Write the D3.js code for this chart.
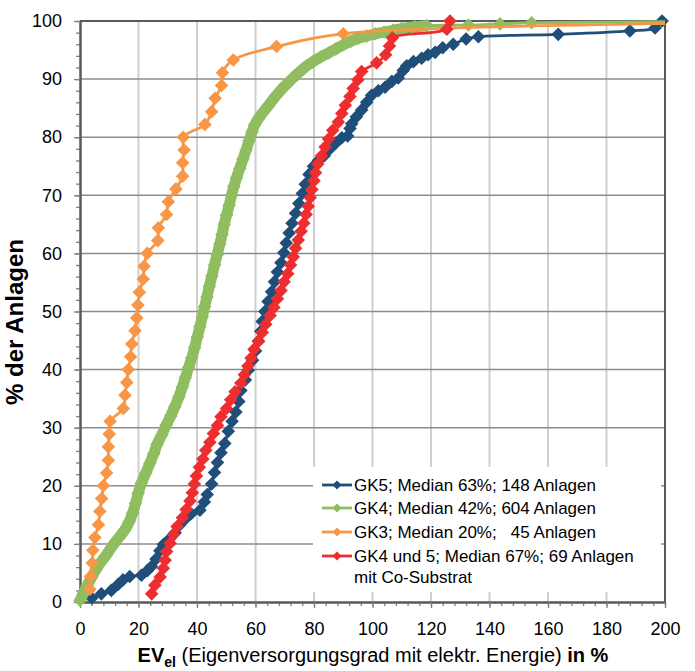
<!DOCTYPE html>
<html lang="de">
<head>
<meta charset="UTF-8">
<title>EV el Verteilung</title>
<style>
  body { margin: 0; padding: 0; background: #fff; }
  svg { display: block; font-family: "Liberation Sans", Arial, sans-serif; }
</style>
</head>
<body>
<div id="chart"></div>
<script src="https://d3js.org/d3.v7.min.js"></script>
<script>
// values: [EV_el in %, cumulative % der Anlagen]
var gk5 = [[4,0.7],[7.3,1.4],[10.7,2.0],[13,3.0],[14.7,3.8],[17,4.4],[21,4.6],[23,5.4],[24.4,6.1],[26,7.4],
  [27.3,8.8],[28.5,9.9],[30.5,10.8],[32.5,11.9],[34,13.2],[36,14.3],[38,15.2],[41,15.8],[42.5,17.2],[43.5,18.5],
  [45,20.3],[46,22.3],[47,24.0],[48.2,25.7],[49.5,27.3],[50.7,29.4],[52,31.1],[53.3,32.7],[54.3,34.5],[55,36.4],
  [56.5,38.2],[57.5,39.9],[59,41.6],[60,43.2],[61,44.9],[61.8,46.6],[62.3,48.3],[63.2,50.0],[64.3,51.7],[65.5,53.4],
  [66.5,55.1],[67.5,56.8],[68.7,58.4],[69.7,60.1],[70.5,61.8],[71.5,63.5],[72.5,65.2],[73.7,66.9],[74.8,68.6],[76,70.3],
  [77,71.9],[78.3,73.6],[79.8,75.0],[81.5,76.0],[83.5,76.8],[85.5,78.0],[87.5,79.0],[89.5,79.9],[91.5,80.2],[92.3,81.5],
  [92.9,82.3],[94.5,83.5],[96.3,84.7],[98,86.0],[99.7,87.2],[102,88.0],[104.3,88.6],[106.6,89.6],[108.8,90.2],[110.5,91.5],
  [111.7,92.3],[114,93.0],[116.8,93.6],[119,94.2],[121.4,94.6],[124,95.4],[127.6,96.0],[132,96.9],[136.2,97.3],[163.5,97.7],
  [188,98.3],[196.6,98.8],[199,100]];

var gk4 = [[0,0.3],[1.2,1.5],[2.4,2.8],[3.9,4.2],[5.5,5.6],[7.2,6.9],[9,8.1],[11,9.6],[13.3,11.1],[15.3,12.4],
  [16.8,13.8],[18,15.3],[19,17],[19.9,18.7],[21,20.5],[22.5,22.2],[23.9,23.9],[25.2,25.5],[26.4,27.2],[28,28.8],
  [29.5,30.5],[31,32.0],[32.4,33.6],[33.8,35.3],[35,37.0],[36,38.6],[37.1,40.3],[38.2,42.0],[39.2,43.8],[40.1,45.6],
  [41,47.4],[41.8,49.1],[42.6,50.8],[43.4,52.5],[44.2,54.3],[45.1,56.1],[46,58.0],[46.9,59.8],[47.8,61.6],[48.6,63.3],
  [49.3,65.0],[50.1,66.6],[51,68.3],[51.8,70.0],[52.6,71.5],[53.5,73.0],[54.6,74.6],[55.7,76.2],[56.8,77.8],[57.8,79.4],
  [58.8,80.9],[59.8,82.2],[61,83.2],[62.6,84.3],[64.2,85.3],[65.7,86.3],[67.3,87.3],[69,88.3],[70.8,89.2],[72.8,90.2],
  [75,91.2],[77.3,92.2],[79.7,93.0],[82.3,93.8],[85,94.5],[87.5,95.2],[90,95.9],[92.5,96.5],[95,97.0],[98,97.4],
  [101,97.8],[104,98.1],[107,98.4],[110,98.7],[114.5,99.0],[118.5,99.2],[132.8,99.3],[143.6,99.5],[154.4,99.7],[260,100]];

var gk3 = [[3.4,2.2],[3.6,4.4],[4.2,6.7],[4.4,8.9],[5.1,11.1],[6.3,13.3],[6.8,15.6],[7.4,17.8],[8.0,20.0],[9.1,22.2],
  [9.7,24.4],[9.7,26.7],[10.0,28.9],[10.3,31.1],[14.8,33.3],[15.4,35.6],[16.0,37.8],[16.5,40.0],[17.3,42.2],[17.7,44.4],
  [18.8,46.7],[19.4,48.9],[19.8,51.1],[20.3,53.3],[21.6,55.6],[21.9,57.8],[23.0,60.0],[26.6,62.2],[26.8,64.4],[29.6,66.7],
  [30.2,68.9],[32.8,71.1],[35.1,73.3],[35.1,75.6],[35.6,77.8],[35.3,80.0],[42.7,82.2],[45.0,84.4],[46.2,86.7],[48.4,88.9],
  [48.7,91.1],[52.4,93.3],[67.2,95.6],[90.0,97.8],[282,100]];

var gk45co = [[24.5,1.4],[25.6,2.9],[27.4,4.3],[28.5,5.8],[29.1,7.2],[29.6,8.7],[30.8,10.1],[32,11.6],[33.2,13.0],[35,14.5],
  [36.3,15.9],[37.6,17.4],[38.4,18.8],[39.1,20.3],[39.8,21.7],[40.8,23.2],[42,24.6],[43,26.1],[44.4,27.5],[45.6,29.0],
  [47,30.4],[48.2,31.9],[50.1,33.3],[51.5,34.8],[53,36.2],[55,37.7],[56.2,39.1],[57.4,40.6],[58.5,42.0],[59.5,43.5],
  [61,44.9],[62.3,46.4],[63.5,47.8],[65,49.3],[66.3,50.7],[67.5,52.2],[68.7,53.6],[69.8,55.1],[71,56.5],[72,58.0],
  [72.9,59.4],[73.7,60.9],[74.6,62.3],[75.6,63.8],[76.5,65.2],[77.3,66.7],[78,68.1],[78.7,69.6],[79.3,71.0],[80,72.5],
  [80.5,73.9],[81.3,75.4],[82.6,76.8],[83.8,78.3],[85,79.7],[86.4,81.2],[88.3,82.6],[89.5,84.1],[90.7,85.5],[92.3,87.0],
  [93.4,88.4],[95.0,89.9],[96.3,91.3],[101.4,92.8],[104.5,94.2],[105.8,95.7],[106.8,97.1],[125.4,98.6],[126.5,100]];

var seriesNames = ["GK5; Median 63%; 148 Anlagen", "GK4; Median 42%; 604 Anlagen",
  "GK3; Median 20%;   45 Anlagen", "GK4 und 5; Median 67%; 69 Anlagen"];
var seriesColors = ["#1f4e7b", "#8fbd5f", "#f79646", "#ee2e2e"];
var xTicks = [0, 20, 40, 60, 80, 100, 120, 140, 160, 180, 200];
var yTicks = [0, 10, 20, 30, 40, 50, 60, 70, 80, 90, 100];

var W = 695, H = 671;
var svg = d3.select("#chart").append("svg").attr("width", W).attr("height", H);

var x = d3.scaleLinear().domain([0, 200]).range([80, 665]);
var y = d3.scaleLinear().domain([0, 100]).range([602, 21]);

// grid
svg.append("g").selectAll("line").data(xTicks.slice(1, -1)).enter().append("line")
  .attr("x1", d => x(d)).attr("x2", d => x(d)).attr("y1", y(0)).attr("y2", y(100))
  .attr("stroke", "#cfcfcf").attr("stroke-width", 2);
svg.append("g").selectAll("line").data(yTicks.slice(1)).enter().append("line")
  .attr("x1", x(0)).attr("x2", x(200)).attr("y1", d => y(d)).attr("y2", d => y(d))
  .attr("stroke", "#8c8c8c").attr("stroke-width", 1.5);

// frame top / right
svg.append("path")
  .attr("d", "M" + x(0) + "," + y(100) + "H" + x(200) + "V" + y(0))
  .attr("fill", "none").attr("stroke", "#595959").attr("stroke-width", 2);

// axes
function styleAxis(g) {
  g.select(".domain").attr("stroke", "#595959").attr("stroke-width", 2);
  g.selectAll(".tick line").attr("stroke", "#7f7f7f").attr("stroke-width", 1.3);
  g.selectAll("text").attr("font-size", 18).attr("fill", "#000")
    .attr("font-family", "'Liberation Sans', Arial, sans-serif");
}
svg.append("g").attr("transform", "translate(" + x(0) + ",0)")
  .call(d3.axisLeft(y).tickValues(d3.range(0, 101, 2)).tickSize(4).tickFormat("").tickSizeOuter(0))
  .call(styleAxis);
svg.append("g").attr("transform", "translate(" + x(0) + ",0)")
  .call(d3.axisLeft(y).tickValues(yTicks).tickSize(6).tickPadding(12).tickSizeOuter(0))
  .call(styleAxis);
svg.append("g").attr("transform", "translate(0," + y(0) + ")")
  .call(d3.axisBottom(x).tickValues(d3.range(0, 201, 4)).tickSize(4).tickFormat("").tickSizeOuter(0))
  .call(styleAxis);
svg.append("g").attr("transform", "translate(0," + y(0) + ")")
  .call(d3.axisBottom(x).tickValues(xTicks).tickSize(6).tickPadding(14).tickSizeOuter(0))
  .call(styleAxis);

// series
svg.append("clipPath").attr("id", "plotclip").append("rect")
  .attr("x", x(0)).attr("y", 0).attr("width", x(200) - x(0)).attr("height", y(0) + 10);

function diamond(r) { return "M0," + (-r) + "L" + r + ",0L0," + r + "L" + (-r) + ",0Z"; }

var line = d3.line().x(d => x(d[0])).y(d => y(d[1])).curve(d3.curveCatmullRom.alpha(0.5));
[gk5, gk4, gk3, gk45co].forEach(function (data, i) {
  var g = svg.append("g");
  // the 604 GK4 markers merge into a solid band in the original
  if (i === 1) {
    g.append("path").datum(data.filter(d => d[0] <= 120)).attr("d", line)
      .attr("fill", "none").attr("stroke", seriesColors[i]).attr("stroke-width", 11)
      .attr("stroke-linejoin", "round");
  }
  g.append("path").datum(data).attr("d", line).attr("clip-path", "url(#plotclip)")
    .attr("fill", "none").attr("stroke", seriesColors[i]).attr("stroke-width", 2.8);
  g.selectAll("path.m").data(data.filter(d => d[0] <= 200)).enter().append("path")
    .attr("class", "m").attr("d", diamond(6.8))
    .attr("transform", d => "translate(" + x(d[0]) + "," + y(d[1]) + ")")
    .attr("fill", seriesColors[i]);
});

// legend
var lg = svg.append("g");
lg.append("rect").attr("x", 313).attr("y", 467).attr("width", 348).attr("height", 125).attr("fill", "#fff");
var legY = [485, 508, 532, 556];
seriesNames.forEach(function (name, i) {
  lg.append("line").attr("x1", 322).attr("x2", 352).attr("y1", legY[i]).attr("y2", legY[i])
    .attr("stroke", seriesColors[i]).attr("stroke-width", 2.8);
  lg.append("path").attr("d", diamond(4.5)).attr("fill", seriesColors[i])
    .attr("transform", "translate(337," + legY[i] + ")");
  lg.append("text").attr("x", 354).attr("y", legY[i]).attr("dy", "0.35em")
    .attr("font-size", 17).style("white-space", "pre").text(name);
});
lg.append("text").attr("x", 354).attr("y", 577).attr("dy", "0.35em").attr("font-size", 17).text("mit Co-Substrat");

// axis titles
svg.append("text")
  .attr("transform", "translate(23,322) rotate(-90)")
  .attr("text-anchor", "middle").attr("font-size", 24).attr("font-weight", "bold")
  .text("% der Anlagen");

var xt = svg.append("text").attr("x", 373).attr("y", 662).attr("text-anchor", "middle").attr("font-size", 20);
xt.append("tspan").attr("font-weight", "bold").text("EV");
xt.append("tspan").attr("font-weight", "bold").attr("font-size", 14).attr("dy", 5).text("el");
xt.append("tspan").attr("dy", -5).text(" (Eigenversorgungsgrad mit elektr. Energie) ");
xt.append("tspan").attr("font-weight", "bold").text("in %");
</script>
</body>
</html>
